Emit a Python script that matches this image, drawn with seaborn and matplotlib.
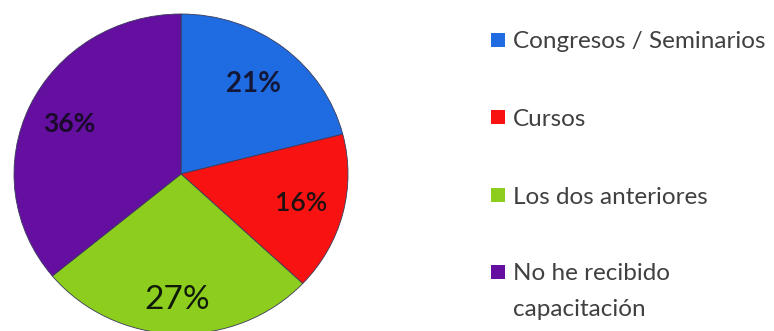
import matplotlib
matplotlib.use("Agg")
import matplotlib.pyplot as plt
from matplotlib.patches import Rectangle
import seaborn as sns

categories = ["Congresos / Seminarios", "Cursos", "Los dos anteriores",
              "No he recibido\ncapacitación"]
shares = [21, 16, 27, 36]
colors = ["#1f6ce2", "#f81212", "#8dcd1e", "#640fa0"]

sns.set_theme(style="white")
plt.rcParams["font.family"] = ["Lato", "DejaVu Sans"]
palette = sns.color_palette(colors)

W, H = 774, 331
fig = plt.figure(figsize=(W / 100, H / 100), dpi=100)
ax = fig.add_axes([14 / W, -3 / H, 334 / W, 320 / H])

wedges, _, autotexts = ax.pie(
    shares, colors=palette, startangle=90, counterclock=False,
    autopct=lambda p: f"{p:.0f}%", pctdistance=0.72,
    wedgeprops=dict(linewidth=0.6, edgecolor="#3a3a5a"),
)
ax.set_aspect("auto")
ax.set_xlim(-1, 1)
ax.set_ylim(-1, 1)

# per-label font, weight, colour and radial distance
label_style = {
    "21%": dict(size=20, weight="bold", color="#141838", r=0.71),
    "16%": dict(size=19, weight="semibold", color="#201010", r=0.74),
    "27%": dict(size=24, weight="normal", color="#101a08", r=0.79),
    "36%": dict(size=19, weight="bold", color="#1a0a2a", r=0.74),
}
for t in autotexts:
    st = label_style[t.get_text()]
    t.set_fontsize(st["size"])
    t.set_fontweight(st["weight"])
    t.set_color(st["color"])
    x, y = t.get_position()
    k = st["r"] / 0.72
    t.set_position((x * k, y * k))

# legend: colour square plus label, one row per category
row_y = [40, 117, 195, 272]   # vertical centres of the first text line (px from top)
line_step = 35                # px between wrapped label lines
for cat, col, yc in zip(categories, palette, row_y):
    fig.patches.append(Rectangle((491 / W, 1 - (yc + 7) / H), 14 / W, 14 / H,
                                 transform=fig.transFigure, figure=fig,
                                 facecolor=col, edgecolor="none"))
    for i, line in enumerate(cat.split("\n")):
        fig.text(513 / W, 1 - (yc + 8.5 + i * line_step) / H, line,
                 fontsize=17.5, color="#404040", va="baseline", ha="left")

fig.savefig("out.png", dpi=100, facecolor="white")
